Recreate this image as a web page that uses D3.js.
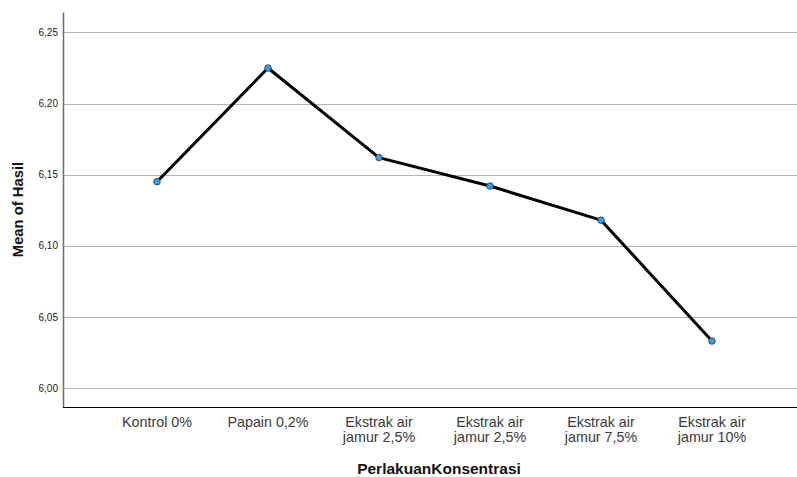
<!DOCTYPE html>
<html>
<head>
<meta charset="utf-8">
<script src="https://cdn.jsdelivr.net/npm/d3@7"></script>
<style>
	body { margin: 0; background: #fff; }
	text { font-family: "Liberation Sans", Arial, sans-serif; }
</style>
</head>
<body>
<svg width="797" height="477"></svg>
<script>
// Data
const categories = ["Kontrol 0%", "Papain 0,2%", "Ekstrak air jamur 2,5%", "Ekstrak air jamur 2,5% ", "Ekstrak air jamur 7,5%", "Ekstrak air jamur 10%"];
const labelLines = [["Kontrol 0%"], ["Papain 0,2%"], ["Ekstrak air", "jamur 2,5%"], ["Ekstrak air", "jamur 2,5%"], ["Ekstrak air", "jamur 7,5%"], ["Ekstrak air", "jamur 10%"]];
const means = [6.145, 6.225, 6.162, 6.142, 6.118, 6.033];
const yTicks = [6.0, 6.05, 6.1, 6.15, 6.2, 6.25];

const svg = d3.select("svg");
const plotLeft = 63, plotRight = 797, plotTop = 12, plotBottom = 407;

const x = d3.scalePoint().domain(categories).range([157, 712]);
const y = d3.scaleLinear().domain([5.9866, 6.2644]).range([plotBottom, plotTop]);

const fmt = (d) => d3.format(".2f")(d).replace(".", ",");

// gridlines
svg.append("g")
	.selectAll("line")
	.data(yTicks)
	.enter()
	.append("line")
	.attr("x1", plotLeft)
	.attr("x2", plotRight)
	.attr("y1", (d) => Math.round(y(d)) + 0.5)
	.attr("y2", (d) => Math.round(y(d)) + 0.5)
	.attr("stroke", "#b4b4b4")
	.attr("stroke-width", 1);

// y axis
const yAxis = svg.append("g")
	.attr("transform", `translate(${plotLeft},0)`)
	.call(d3.axisLeft(y).tickValues(yTicks).tickSize(0).tickPadding(5).tickFormat(fmt));
yAxis.select(".domain").attr("stroke", "#6e6e6e").attr("stroke-width", 1.5);
yAxis.selectAll("text").attr("font-size", 10).attr("fill", "#222");

// x axis
const xAxis = svg.append("g")
	.attr("transform", `translate(0,${plotBottom})`)
	.call(d3.axisBottom(x).tickSize(0).tickFormat(""));
xAxis.select(".domain").attr("d", `M${plotLeft},0.5H${plotRight}`).attr("stroke", "#000").attr("stroke-width", 1.2);

const lbl = svg.append("g");
categories.forEach((c, i) => {
	const t = lbl.append("text")
		.attr("x", x(c))
		.attr("y", 427)
		.attr("text-anchor", "middle")
		.attr("font-size", 14.3)
		.attr("fill", "#3a3a3a");
	labelLines[i].forEach((ln, j) => {
		t.append("tspan").attr("x", x(c)).attr("dy", j === 0 ? 0 : 15).text(ln);
	});
});

// axis titles
svg.append("text")
	.attr("transform", `translate(23,${(plotTop + plotBottom) / 2}) rotate(-90)`)
	.attr("text-anchor", "middle")
	.attr("font-size", 14.8)
	.attr("font-weight", "bold")
	.attr("fill", "#111")
	.text("Mean of Hasil");

svg.append("text")
	.attr("x", 439)
	.attr("y", 474)
	.attr("text-anchor", "middle")
	.attr("font-size", 15.5)
	.attr("font-weight", "bold")
	.attr("fill", "#111")
	.text("PerlakuanKonsentrasi");

// line
const line = d3.line()
	.x((d, i) => x(categories[i]))
	.y((d) => y(d));

svg.append("path")
	.datum(means)
	.attr("d", line)
	.attr("fill", "none")
	.attr("stroke", "#000")
	.attr("stroke-width", 3)
	.attr("stroke-linejoin", "round");

svg.append("g")
	.selectAll("circle")
	.data(means)
	.enter()
	.append("circle")
	.attr("cx", (d, i) => x(categories[i]))
	.attr("cy", (d) => y(d))
	.attr("r", 3.3)
	.attr("fill", "#3a9ee6")
	.attr("stroke", "#1a3a55")
	.attr("stroke-width", 0.8);
</script>
</body>
</html>
